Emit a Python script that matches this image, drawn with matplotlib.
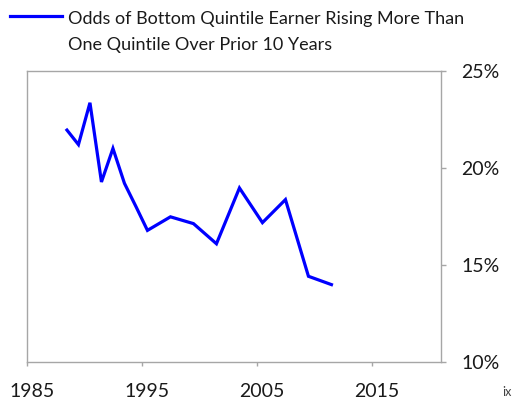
import matplotlib
matplotlib.use("Agg")
import matplotlib.pyplot as plt
from matplotlib.lines import Line2D
import matplotlib.transforms as mtransforms

years = [1988.5, 1989.5, 1990.5, 1991.5, 1992.5, 1993.5, 1994.5, 1995.5,
         1997.5, 1999.5, 2001.5, 2003.5, 2005.5, 2007.5, 2009.5, 2011.5]
odds = [0.2195, 0.212, 0.2336, 0.1927, 0.210, 0.192, 0.180, 0.1677,
        0.1747, 0.1712, 0.1608, 0.1896, 0.1717, 0.1836, 0.144, 0.1397]
x_ticks = [1985, 1995, 2005, 2015]
y_ticks = [0.10, 0.15, 0.20, 0.25]
y_labels = ["10%", "15%", "20%", "25%"]
label_lines = ["Odds of Bottom Quintile Earner Rising More Than",
               "One Quintile Over Prior 10 Years"]

plt.rcParams['font.family'] = ['Lato', 'DejaVu Sans']
W, H = 512, 400
fig = plt.figure(figsize=(W / 100, H / 100), dpi=100)
ax = fig.add_axes([26.7 / W, 1 - 361.5 / H, (440.7 - 26.7) / W, (361.5 - 71) / H])

ax.plot(years, odds, color='#0000ff', lw=2.3, solid_joinstyle='miter')
ax.set_xlim(1985, 2021)
ax.set_ylim(0.10, 0.25)

gray = '#a6a6a6'
for s in ['left', 'right', 'top', 'bottom']:
    ax.spines[s].set_color(gray)
    ax.spines[s].set_linewidth(1.0)

ax.yaxis.tick_right()
ax.set_yticks(y_ticks)
ax.set_yticklabels(y_labels)
ax.set_xticks(x_ticks)
ax.set_xticklabels([str(t) for t in x_ticks])
ax.tick_params(axis='y', direction='out', length=3.6, color=gray, width=1,
               pad=11, labelsize=14, labelcolor='#1a1a1a')
ax.tick_params(axis='x', direction='out', length=2.9, color=gray, width=1,
               pad=12.5, labelsize=14, labelcolor='#1a1a1a')
offset = mtransforms.ScaledTranslation(5 / 100, 0, fig.dpi_scale_trans)
for lab in ax.get_xticklabels():
    lab.set_transform(lab.get_transform() + offset)

# legend drawn manually
fig.add_artist(Line2D([10 / W, 62 / W], [1 - 16 / H, 1 - 16 / H], color='#0000ff', lw=2.3))
fig.text(68 / W, 1 - 24 / H, label_lines[0], ha='left', va='baseline', fontsize=13,
         color='#1a1a1a')
fig.text(68 / W, 1 - 50 / H, label_lines[1], ha='left', va='baseline', fontsize=13,
         color='#1a1a1a')

fig.text(502 / W, 1 - 392 / H, "ix", ha='left', va='center', fontsize=9, color='#404040')

fig.savefig("out.png", dpi=100)
